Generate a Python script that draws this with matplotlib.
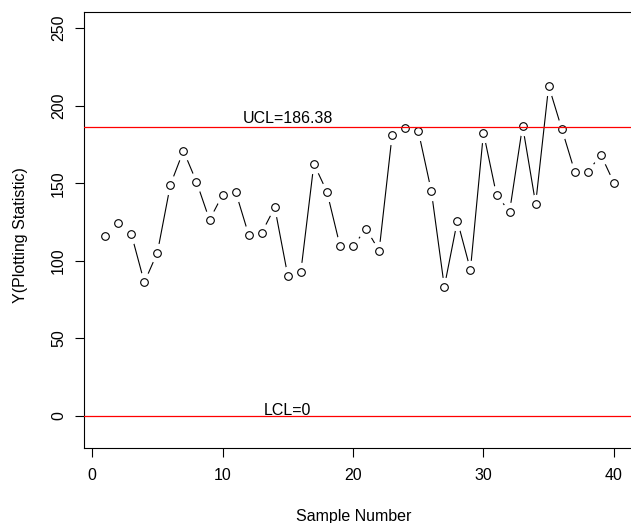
import matplotlib
matplotlib.use("Agg")
import matplotlib.pyplot as plt

sample = list(range(1, 41))
stat = [116.2, 124.5, 117.4, 86.1, 105.2, 149.0, 170.9, 150.9, 126.4, 142.5,
        144.5, 116.8, 118.1, 134.4, 90.4, 93.0, 162.5, 144.5, 109.7, 109.3,
        120.7, 106.5, 181.2, 185.7, 183.8, 145.1, 83.3, 125.8, 94.3, 182.5,
        142.5, 131.6, 187.0, 136.8, 212.7, 185.1, 157.4, 157.4, 168.3, 150.3]
ucl = 186.38
lcl = 0
xticks = [0, 10, 20, 30, 40]
yticks = [0, 50, 100, 150, 200, 250]

plt.rcParams['font.family'] = ['Liberation Sans', 'DejaVu Sans']
plt.rcParams['font.size'] = 11.5

fig = plt.figure(figsize=(6.31, 5.23), dpi=100)
ax = fig.add_axes([0.1336, 0.1440, 0.8724, 0.8333])

ax.plot(sample, stat, color='black', lw=0.8, zorder=2)
ax.plot(sample, stat, ls='none', marker='o', ms=13, mfc='white', mec='white', zorder=3)
ax.plot(sample, stat, ls='none', marker='o', ms=5.5, mfc='white', mec='black', mew=0.8, zorder=4)

ax.axhline(ucl, color='red', lw=0.9, zorder=5)
ax.axhline(lcl, color='red', lw=0.9, zorder=5)
ax.text(15, ucl + 2.3, f"UCL={ucl:.2f}", ha='center', va='baseline', zorder=6)
ax.text(15, lcl + 0.5, f"LCL={lcl}", ha='center', va='baseline', zorder=6)

ax.set_xlim(-0.6, 41.6)
ax.set_ylim(-20.4, 260.4)
ax.set_xticks(xticks)
ax.set_yticks(yticks)
ax.tick_params(axis='both', length=6.5, width=0.8, color='black')
ax.tick_params(axis='x', pad=8)
ax.tick_params(axis='y', pad=6.5)
for lab in ax.get_yticklabels():
    lab.set_rotation(90)
    lab.set_va('center')
for s in ax.spines.values():
    s.set_linewidth(0.8)

ax.set_xlabel("Sample Number")
ax.set_ylabel("Y(Plotting Statistic)")
ax.xaxis.set_label_coords(0.49, -0.168)
ax.xaxis.label.set_va('baseline')
ax.yaxis.set_label_coords(-0.116, 0.488)
ax.yaxis.label.set_va('center')

fig.savefig("out.png", dpi=100)
